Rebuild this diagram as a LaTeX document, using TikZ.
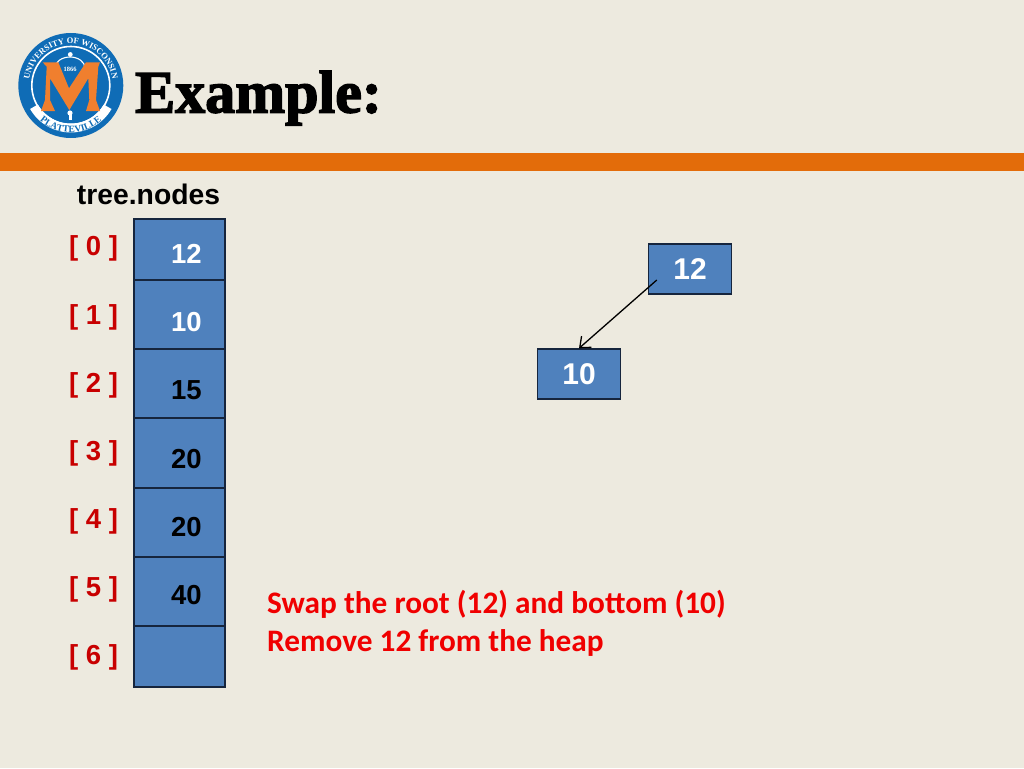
\documentclass[tikz,border=0pt]{standalone}
\usepackage{fontspec}
\setmainfont{Liberation Sans}
\newfontfamily\titlefont[FakeBold=2.5]{Liberation Serif Bold}
\newfontfamily\notefont{Carlito Bold}
\newfontfamily\sealfont{Liberation Serif}
\usetikzlibrary{arrows.meta,decorations.text}
\definecolor{slidebg}{HTML}{EDEADF}
\definecolor{barorange}{HTML}{E36C0A}
\definecolor{cellblue}{HTML}{4F81BD}
\definecolor{celledge}{HTML}{16253D}
\definecolor{indexred}{HTML}{C80000}
\definecolor{notered}{HTML}{F00000}
\definecolor{sealblue}{HTML}{0F6CB6}
\definecolor{sealorange}{HTML}{F07F2E}
\tikzset{
  cell/.style={draw=celledge,line width=1.4pt,fill=cellblue,minimum width=91pt,inner sep=0pt},
  heapnode/.style={draw=celledge,line width=1.4pt,fill=cellblue,minimum width=83pt,minimum height=50pt,inner sep=0pt,text=white,font=\bfseries\fontsize{30}{32}\selectfont},
  idx/.style={text=indexred,font=\bfseries\fontsize{27.5}{29}\selectfont,inner sep=0pt},
  val/.style={font=\bfseries\fontsize{27.5}{30}\selectfont,inner sep=0pt},
  note/.style={text=notered,anchor=west,inner sep=0pt,font=\notefont\fontsize{31.3}{33}\selectfont}
}
\begin{document}
\begin{tikzpicture}[x=1pt,y=-1pt,>={Straight Barb[length=9pt,width=15pt]}]
\useasboundingbox (0,0) rectangle (1024,768);
\fill[slidebg] (0,0) rectangle (1024,768);
\fill[barorange] (0,153) rectangle (1024,171);
\fill[sealblue] (70.8,85.5) circle (52.5);
\draw[white,line width=1.6pt] (70.8,85.5) circle (39);
\fill[white] (30.1,109) arc (150:30:47) -- (103.7,104.5) arc (30:150:38) -- cycle;
\fill[sealblue] (70.8,85.5) circle (37.5);
\draw[white,line width=1.1pt] (55,68) arc (180:360:15 and 11);
\fill[white] (70.3,54.5) circle (2.4);
\node[text=white,inner sep=0pt,font=\sealfont\bfseries\fontsize{6.5}{7}\selectfont] (year) at (70,69) {1866};
\fill[sealorange] (42.7,62.3) -- (58.3,62.3) -- (69,88.3) -- (86,62.3) -- (100,62.3) -- (98.3,66.7) -- (96,100) -- (100,111) -- (86,111) -- (89.3,100) -- (88.3,78.3) -- (69.3,110) -- (50,78.3) -- (50,100) -- (55,111) -- (41,111) -- (45,100) -- (46.7,66.7) -- cycle;
\fill[white] (70,113) circle (2.6);
\fill[white] (68.5,114) rectangle (71.5,120);
\path[decorate,decoration={text along path,text align=center,text={|\sealfont\bfseries\fontsize{8.5}{9}\selectfont\color{white}|UNIVERSITY OF WISCONSIN}}] (30.23,96.37) arc (-195:15:42);
\path[decorate,decoration={text along path,text align=center,text={|\sealfont\bfseries\fontsize{9.5}{10}\selectfont\color{sealblue}|PLATTEVILLE}}] (30.1,109) arc (150:30:47);
\node[anchor=base west,inner sep=0pt,font=\titlefont\fontsize{60}{62}\selectfont] (title) at (135,112.5) {Example:};
\node[inner sep=0pt,font=\bfseries\fontsize{28.3}{30}\selectfont] (caption) at (148.5,194) {tree.nodes};
\node[cell,minimum height=61pt] (c0) at (179.5,249.5) {};
\node[cell,minimum height=69pt] (c1) at (179.5,314.5) {};
\node[cell,minimum height=69pt] (c2) at (179.5,383.5) {};
\node[cell,minimum height=70pt] (c3) at (179.5,453) {};
\node[cell,minimum height=69pt] (c4) at (179.5,522.5) {};
\node[cell,minimum height=69pt] (c5) at (179.5,591.5) {};
\node[cell,minimum height=61pt] (c6) at (179.5,656.5) {};
\node[idx] (i0) at (93.5,248.5) {[ 0 ]};
\node[idx] (i1) at (93.5,317.5) {[ 1 ]};
\node[idx] (i2) at (93.5,385.5) {[ 2 ]};
\node[idx] (i3) at (93.5,453.5) {[ 3 ]};
\node[idx] (i4) at (93.5,521.5) {[ 4 ]};
\node[idx] (i5) at (93.5,589.5) {[ 5 ]};
\node[idx] (i6) at (93.5,657.5) {[ 6 ]};
\node[val,text=white] (v0) at (186.5,254) {12};
\node[val,text=white] (v1) at (186.5,322) {10};
\node[val] (v2) at (186.5,390) {15};
\node[val] (v3) at (186.5,459) {20};
\node[val] (v4) at (186.5,527) {20};
\node[val] (v5) at (186.5,595) {40};
\node[heapnode] (root) at (690,269) {12};
\node[heapnode] (left) at (579,374) {10};
\draw[->,line width=1.3pt] ([shift={(9,11)}]root.west) -- (left.north);
\node[note] (swap) at (267,604.5) {Swap the root (12) and bottom (10)};
\node[note] (remove) at (267,642.5) {Remove 12 from the heap};
\end{tikzpicture}
\end{document}
